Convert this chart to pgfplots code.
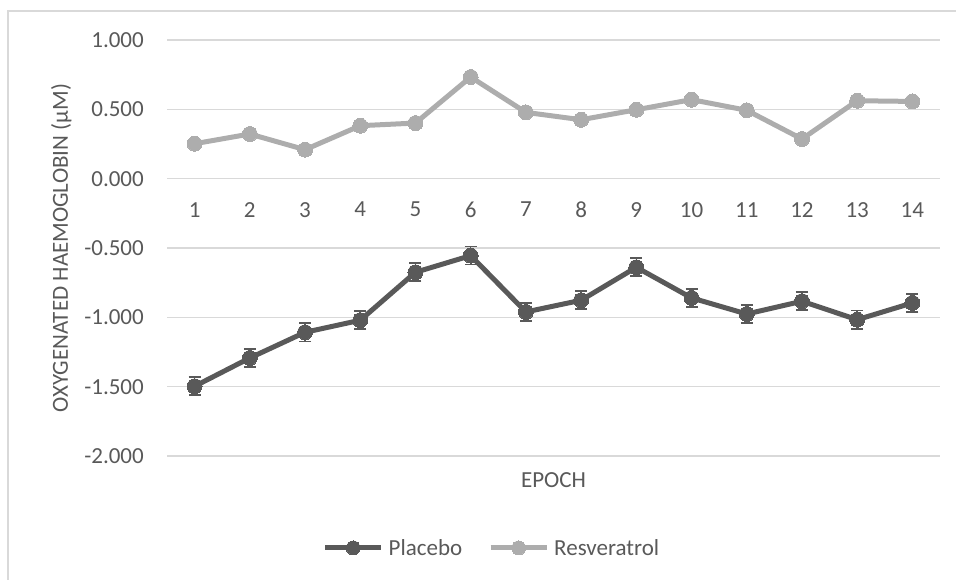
\documentclass[border=0pt]{standalone}
\usepackage{pgfplots}
\pgfplotsset{compat=1.18}
\usepackage{fontspec}
\setmainfont{Carlito}
\definecolor{placebo}{HTML}{595959}
\definecolor{resv}{HTML}{ADADAD}
\definecolor{gridc}{HTML}{D9D9D9}
\definecolor{txt}{HTML}{595959}
\begin{document}
\begin{tikzpicture}
\begin{axis}[
  at={(167pt,123pt)}, anchor=south west,
  width=773pt, height=416pt, scale only axis,
  xmin=0.5, xmax=14.5, ymin=-2, ymax=1,
  xtick={1,...,14},
  ytick={-2,-1.5,-1,-0.5,0,0.5,1},
  yticklabels={-2.000,-1.500,-1.000,-0.500,0.000,0.500,1.000},
  ymajorgrids,
  grid style={color=gridc, line width=1.3pt},
  axis line style={draw=none},
  major tick length=0pt,
  /pgf/number format/assume math mode=true,
  tick label style={font=\fontsize{23}{27}\selectfont, text=txt, inner sep=0pt},
  xticklabel style={anchor=north, yshift=254pt},
  yticklabel style={anchor=east, xshift=-23pt},
  xlabel={EPOCH},
  ylabel={OXYGENATED HAEMOGLOBIN (µM)},
  every axis x label/.style={at={(axis description cs:0.5,0)}, anchor=base, yshift=-31pt,
    font=\fontsize{23}{27}\selectfont, text=txt, inner sep=0pt},
  every axis y label/.style={at={(axis description cs:0,0.5)}, rotate=90, anchor=base, yshift=99pt,
    font=\fontsize{23}{27}\selectfont, text=txt, inner sep=0pt},
  legend columns=2,
  legend style={at={(0.419,-0.221)}, anchor=center, draw=none, fill=none,
    font=\fontsize{23}{27}\selectfont, text=txt,
    nodes={inner sep=0pt},
    /tikz/every odd column/.append style={column sep=5pt},
    /tikz/every even column/.append style={column sep=26pt}},
  legend image code/.code={\draw[mark repeat=2,mark phase=2,#1,mark size=7pt] plot coordinates {(0pt,0pt) (28pt,0pt) (56pt,0pt)};},
]
\addplot[color=placebo, line width=5pt, mark=*, mark size=7.5pt, mark options={fill=placebo, draw=placebo, line width=0pt},
  error bars/.cd, y dir=both, y explicit,
  error bar style={line width=1.6pt, color=placebo},
  error mark options={rotate=90, mark size=6pt, line width=1.6pt, color=placebo}]
  coordinates {
  (1,-1.497) +- (0,0.065)
  (2,-1.293) +- (0,0.065)
  (3,-1.108) +- (0,0.065)
  (4,-1.021) +- (0,0.065)
  (5,-0.675) +- (0,0.065)
  (6,-0.555) +- (0,0.065)
  (7,-0.961) +- (0,0.065)
  (8,-0.877) +- (0,0.065)
  (9,-0.639) +- (0,0.065)
  (10,-0.860) +- (0,0.065)
  (11,-0.976) +- (0,0.065)
  (12,-0.884) +- (0,0.065)
  (13,-1.017) +- (0,0.065)
  (14,-0.896) +- (0,0.065)
  };
\addlegendentry{Placebo}
\addplot[color=resv, line width=5pt, mark=*, mark size=7.5pt, mark options={fill=resv, draw=resv, line width=0pt}]
  coordinates {
  (1,0.252) (2,0.322) (3,0.209) (4,0.382) (5,0.401) (6,0.733) (7,0.478)
  (8,0.425) (9,0.497) (10,0.570) (11,0.493) (12,0.286) (13,0.562) (14,0.557)
  };
\addlegendentry{Resveratrol}
\end{axis}
\draw[gridc, line width=1.3pt] (8pt,-20pt) |- (1000pt,568pt);
\pgfresetboundingbox
\useasboundingbox (0,0) rectangle (956pt,579pt);
\end{tikzpicture}
\end{document}
